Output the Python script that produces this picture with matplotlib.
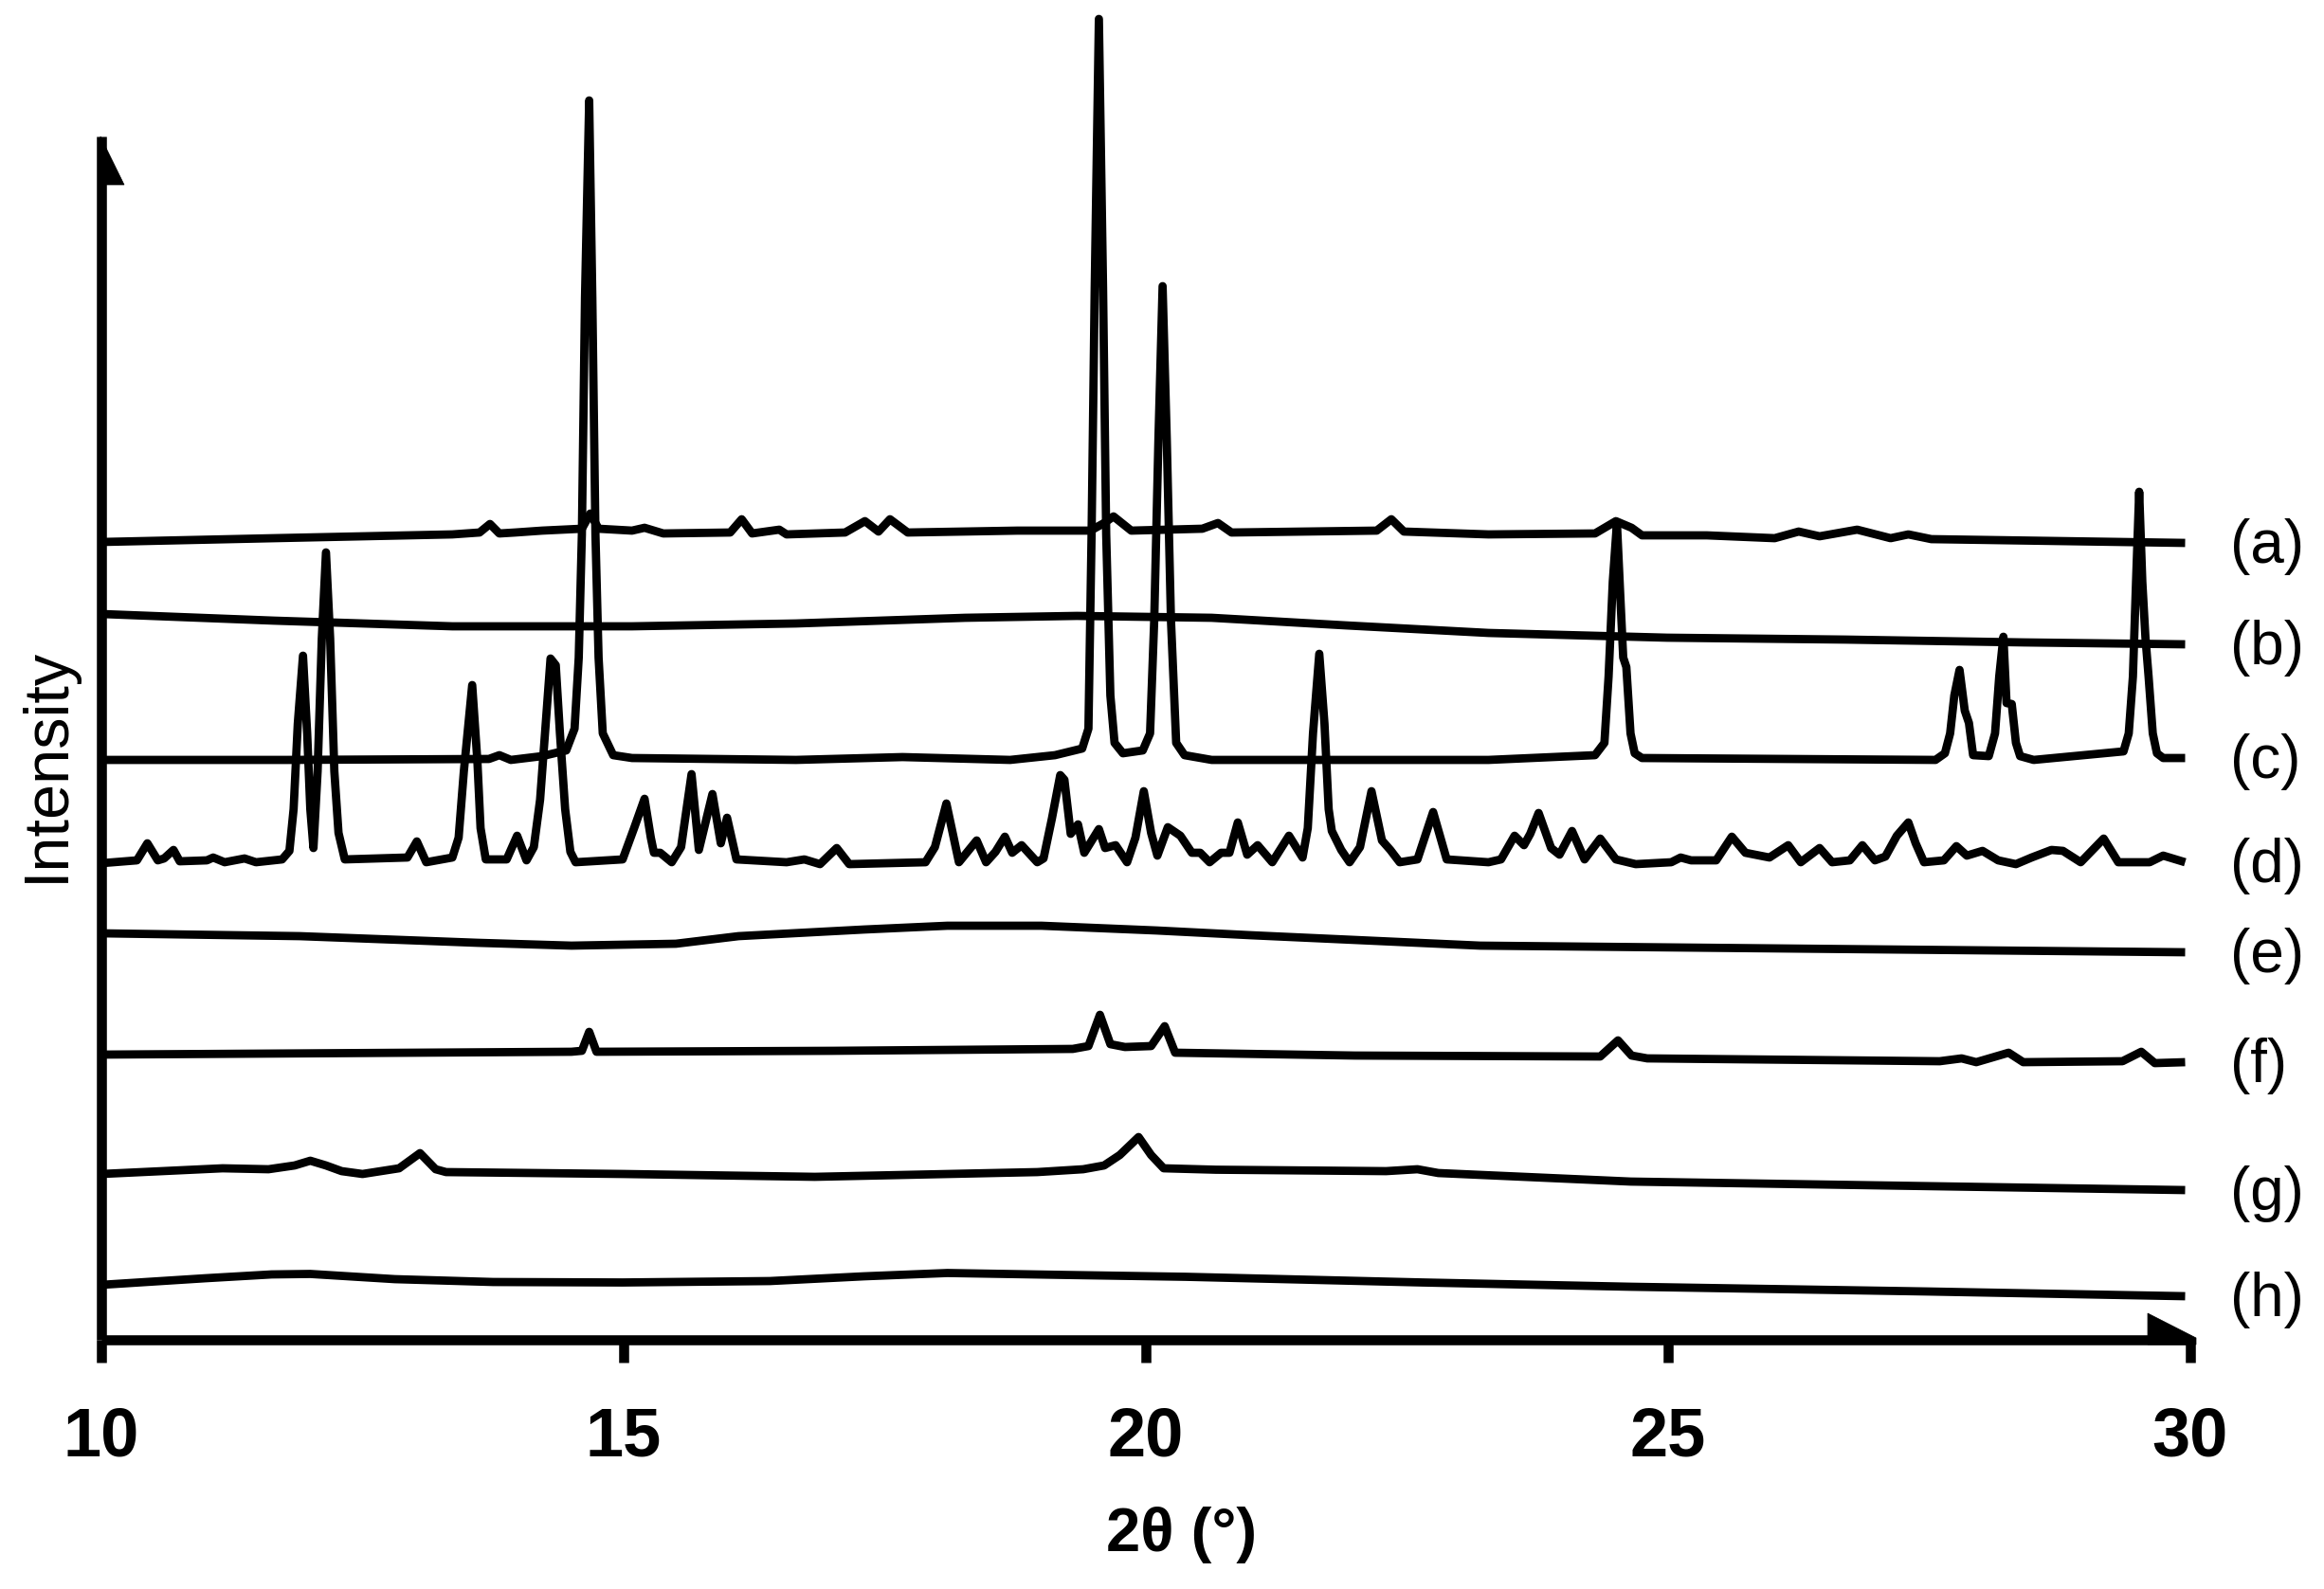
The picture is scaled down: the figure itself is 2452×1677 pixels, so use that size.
import matplotlib
matplotlib.use("Agg")
import matplotlib.pyplot as plt
from matplotlib.patches import Polygon

plt.rcParams['font.family'] = ['Liberation Sans', 'DejaVu Sans']

# ---------------- data (2theta in degrees, stacked intensity in a.u.) ----------------
a_x = [10.0, 11.65, 13.36, 13.62, 13.72, 13.81, 13.96, 14.22, 14.6, 14.68, 14.76, 15.08, 15.2,
       15.38, 16.02, 16.13, 16.23, 16.49, 16.56, 17.12, 17.31, 17.44, 17.55, 17.72, 18.77, 19.47,
       19.6, 19.69, 19.86, 20.54, 20.69, 20.82, 22.21, 22.35, 22.47, 23.28, 24.3, 24.5, 24.65,
       24.75, 25.37, 26.02, 26.25, 26.45, 26.81, 27.13, 27.3, 27.52, 29.95]
a_y = [842, 846, 850, 852, 861, 851, 852, 854, 856, 872, 856, 854, 857,
       851, 852, 866, 851, 855, 850, 852, 864, 853, 866, 852, 854, 854,
       862, 869, 854, 856, 862, 852, 854, 866, 853, 850, 851, 864, 857,
       849, 849, 846, 853, 848, 855, 846, 850, 845, 841]

b_x = [10.0, 11.65, 13.36, 15.08, 16.65, 18.27, 19.34, 20.63, 21.91, 23.28, 24.99, 26.7, 28.41, 29.95]
b_y = [766, 759, 753, 753, 756, 762, 764, 762, 754, 746, 741, 739, 736, 734]

c_x = [10.0, 11.78, 13.71, 13.81, 13.92, 14.22, 14.45, 14.53, 14.57, 14.6, 14.63, 14.67, 14.70,
       14.73, 14.76, 14.8, 14.9, 15.08, 16.65, 17.67, 18.7, 19.13, 19.39, 19.45, 19.48, 19.51,
       19.55, 19.59, 19.62, 19.66, 19.7, 19.78, 19.97, 20.04, 20.08, 20.12, 20.16, 20.2, 20.24,
       20.29, 20.37, 20.63, 23.28, 24.3, 24.39, 24.43, 24.47, 24.51, 24.54, 24.57, 24.6, 24.64,
       24.68, 24.75, 27.56, 27.65, 27.7, 27.74, 27.79, 27.84, 27.88, 27.92, 28.07, 28.13, 28.17,
       28.21, 28.24, 28.29, 28.33, 28.37, 28.5, 29.36, 29.41, 29.45, 29.48, 29.51, 29.54, 29.57,
       29.6, 29.64, 29.68, 29.74, 29.95]
c_y = [612, 612, 613, 617, 612, 616, 622, 645, 720, 850, 1100, 1308, 1100,
       850, 720, 640, 617, 614, 612, 615, 612, 617, 624, 645, 850, 1110,
       1394, 1110, 850, 680, 630, 619, 622, 640, 760, 950, 1112, 950, 760,
       630, 617, 612, 612, 617, 630, 700, 800, 862, 790, 720, 710, 640,
       619, 614, 612, 619, 640, 680, 707, 664, 651, 617, 616, 640, 700,
       742, 672, 671, 630, 616, 612, 621, 640, 700, 800, 895, 800, 741,
       700, 640, 619, 614, 614]

d_x = [10.0, 10.34, 10.44, 10.54, 10.6, 10.69, 10.75, 11.01, 11.07, 11.18, 11.37, 11.48, 11.73,
       11.8, 11.84, 11.88, 11.93, 11.97, 12.0, 12.03, 12.07, 12.11, 12.15, 12.19, 12.23, 12.27,
       12.33, 12.93, 13.02, 13.11, 13.36, 13.42, 13.47, 13.55, 13.6, 13.63, 13.68, 13.88, 13.98,
       14.07, 14.14, 14.2, 14.26, 14.3, 14.35, 14.39, 14.44, 14.49, 14.54, 14.99, 15.1, 15.2,
       15.26, 15.29, 15.35, 15.46, 15.55, 15.65, 15.72, 15.85, 15.93, 15.99, 16.08, 16.56, 16.73,
       16.88, 17.04, 17.16, 17.89, 17.98, 18.09, 18.21, 18.38, 18.47, 18.56, 18.65, 18.72, 18.81,
       18.96, 19.02, 19.1, 19.18, 19.22, 19.28, 19.35, 19.41, 19.55, 19.61, 19.71, 19.82, 19.9,
       19.98, 20.05, 20.11, 20.21, 20.33, 20.44, 20.52, 20.61, 20.72, 20.8, 20.88, 20.97, 21.07,
       21.21, 21.37, 21.5, 21.55, 21.6, 21.66, 21.71, 21.75, 21.78, 21.87, 21.95, 22.05, 22.16,
       22.26, 22.34, 22.43, 22.6, 22.75, 22.88, 23.28, 23.4, 23.53, 23.62, 23.68, 23.76, 23.88,
       23.96, 24.08, 24.2, 24.35, 24.5, 24.69, 25.03, 25.12, 25.22, 25.46, 25.61, 25.74, 25.97,
       26.15, 26.27, 26.45, 26.57, 26.74, 26.86, 26.98, 27.08, 27.19, 27.3, 27.37, 27.45, 27.64,
       27.76, 27.86, 28.01, 28.16, 28.33, 28.48, 28.67, 28.78, 28.95, 29.17, 29.31, 29.61, 29.74,
       29.95]
d_y = [503, 506, 524, 506, 508, 517, 505, 506, 509, 504, 508, 504, 507,
       516, 560, 650, 722, 640, 560, 519, 600, 740, 831, 740, 600, 535,
       507, 509, 526, 504, 509, 530, 600, 691, 610, 540, 507, 507, 532,
       506, 520, 570, 660, 719, 712, 640, 560, 515, 504, 507, 540, 571,
       530, 514, 514, 504, 520, 597, 517, 576, 524, 551, 507, 504, 507,
       502, 519, 502, 504, 520, 566, 504, 527, 504, 515, 531, 514, 522,
       504, 508, 550, 596, 591, 534, 544, 514, 539, 519, 522, 504, 530,
       579, 535, 511, 541, 532, 514, 514, 504, 514, 514, 546, 512, 522,
       504, 532, 509, 540, 640, 724, 650, 560, 537, 517, 504, 520, 579,
       527, 517, 504, 507, 557, 507, 504, 507, 532, 522, 534, 556, 519,
       512, 537, 507, 529, 507, 502, 504, 509, 506, 506, 531, 514, 509,
       522, 504, 519, 504, 506, 522, 506, 510, 532, 546, 524, 504, 506,
       521, 511, 516, 506, 502, 509, 517, 516, 504, 529, 504, 504, 511,
       504]

e_x = [10.0, 11.9, 13.6, 14.5, 15.5, 16.1, 17.3, 18.1, 19.0, 20.1, 21.0, 21.8, 23.2, 26.1, 29.95]
e_y = [429, 426, 419, 416, 418, 426, 433, 437, 437, 432, 427, 423, 416, 413, 409]

f_x = [10.0, 14.5, 14.6, 14.67, 14.74, 17.0, 19.3, 19.45, 19.56, 19.66, 19.8, 20.05, 20.18, 20.28,
       22.0, 24.35, 24.52, 24.65, 24.8, 27.6, 27.81, 27.95, 28.26, 28.4, 29.35, 29.53, 29.66, 29.95]
f_y = [301, 304, 305, 325, 304, 305, 307, 310, 343, 312, 309, 310, 331, 303,
       300, 299, 316, 300, 297, 294, 297, 293, 303, 293, 294, 304, 292, 293]

g_x = [10.0, 11.16, 11.6, 11.85, 12.0, 12.15, 12.3, 12.5, 12.85, 13.05, 13.2, 13.3, 15.0, 16.83,
       18.96, 19.4, 19.6, 19.75, 19.93, 20.05, 20.17, 20.67, 22.3, 22.6, 22.8, 24.64, 29.95]
g_y = [175, 181, 180, 184, 189, 184, 178, 175, 181, 197, 180, 177, 175, 172,
       177, 180, 184, 195, 214, 195, 181, 179.5, 178, 180, 176, 167, 158]

h_x = [10.0, 11.0, 11.63, 12.0, 12.81, 13.75, 14.99, 16.4, 17.3, 18.1, 19.2, 20.38, 22.65, 24.64,
       27.48, 29.95]
h_y = [58, 65, 69, 69.5, 64, 61, 60.5, 62, 67, 70.5, 68.5, 66.5, 60.5, 56, 51, 46]

series_names = ['(a)', '(b)', '(c)', '(d)', '(e)', '(f)', '(g)', '(h)']
x_ticks = [10, 15, 20, 25, 30]
x_label = '2θ (°)'
y_label = 'Intensity'

# ---------------- layout ----------------
W, H, DPI = 2452, 1677, 100
fig = plt.figure(figsize=(W / DPI, H / DPI), dpi=DPI)
px_left, px_right, px_axis = 107, 2311, 1414      # pixel positions of x=10, x=30, x-axis line
ax = fig.add_axes([px_left / W, (H - px_axis) / H, (px_right - px_left) / W, px_axis / H])
ax.set_xlim(10, 30)
ax.set_ylim(0, px_axis)

deg_per_px = 20.0 / (px_right - px_left)

def xd(px):
    return 10 + (px - px_left) * deg_per_px

def yd(py):
    return px_axis - py

LW = 6.3
series = [(a_x, a_y), (b_x, b_y), (c_x, c_y), (d_x, d_y),
          (e_x, e_y), (f_x, f_y), (g_x, g_y), (h_x, h_y)]
for (xs, ys), name in zip(series, series_names):
    ax.plot(xs, ys, color='black', lw=LW, solid_joinstyle='round',
            solid_capstyle='butt', clip_on=False)
    ax.text(xd(2353), ys[-1] - 4, name, ha='left', va='center', fontsize=46,
            color='black', clip_on=False)

# axes / spines
for s in ['top', 'right']:
    ax.spines[s].set_visible(False)
AXW = 7.6
ax.spines['left'].set_linewidth(AXW)
ax.spines['bottom'].set_linewidth(AXW)
ax.spines['left'].set_bounds(0, yd(144))
ax.spines['left'].set_capstyle('butt')
ax.spines['bottom'].set_capstyle('butt')

ax.set_yticks([])
ax.set_xticks(x_ticks)
ax.tick_params(axis='x', direction='out', length=17.3, width=AXW, pad=33,
               labelsize=52, color='black')
for lbl in ax.get_xticklabels():
    lbl.set_fontweight('bold')

# half arrow heads
ax.add_patch(Polygon([(xd(106), yd(144)), (xd(131), yd(195)), (xd(106), yd(195))],
                     closed=True, facecolor='black', edgecolor='black', lw=0.5, clip_on=False))
ax.add_patch(Polygon([(xd(2266), yd(1386)), (xd(2317), yd(1412)), (xd(2317), yd(1419)),
                      (xd(2266), yd(1419))],
                     closed=True, facecolor='black', edgecolor='black', lw=0.5, clip_on=False))

fig.text(1247 / W, (H - 1637) / H, x_label, ha='center', va='baseline',
         fontsize=47, fontweight='bold')
fig.text(50 / W, (H - 807) / H, y_label, rotation=90, ha='center', va='center',
         fontsize=48)

fig.savefig('out.png', dpi=DPI, facecolor='white')
